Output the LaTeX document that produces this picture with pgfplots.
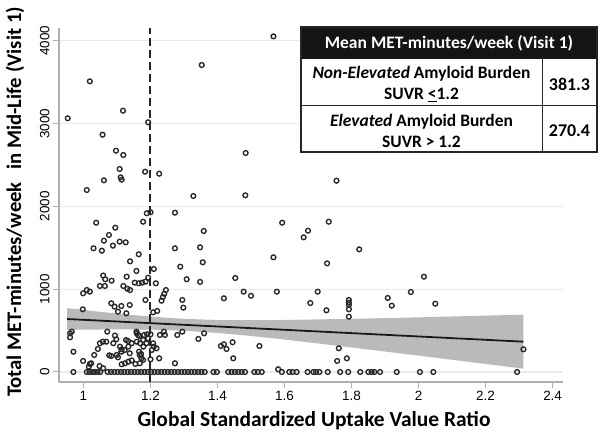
\documentclass[border=0pt]{standalone}
\usepackage{pgfplots}
\pgfplotsset{compat=1.18}
\usepackage{pgfplotstable}
\usepackage{fontspec}
\setmainfont{Liberation Sans}
\newfontfamily\carlito{Carlito}
\definecolor{bandgray}{RGB}{186,186,186}
\definecolor{markc}{RGB}{40,40,40}
\definecolor{axgray}{RGB}{175,175,175}
\definecolor{gridc}{RGB}{234,234,234}

\pgfplotstableread{
x y
1.567 4054
1.353 3708
1.019 3511
1.118 3156
0.953 3064
1.193 3016
1.057 2866
1.097 2673
1.119 2621
1.484 2645
1.108 2452
1.184 2419
1.226 2395
1.111 2351
1.114 2323
1.061 2315
1.010 2198
1.328 2126
1.483 2134
1.755 2310
1.200 1929
1.189 1917
1.178 1815
1.273 1924
1.038 1803
1.593 1803
1.732 1815
1.095 1743
1.359 1703
1.670 1707
1.076 1655
1.657 1626
1.061 1586
1.108 1574
1.126 1566
1.088 1526
1.030 1494
1.055 1465
1.273 1494
1.348 1506
1.823 1481
1.165 1422
1.567 1385
1.139 1336
1.356 1325
1.727 1312
1.289 1272
1.210 1244
1.158 1220
2.016 1151
1.059 1165
1.065 1120
1.084 1103
1.129 1151
1.193 1139
1.308 1120
1.348 1088
1.453 1135
1.153 1079
1.165 1071
1.175 1079
1.185 1091
1.216 1071
1.049 1039
1.064 1039
1.119 1039
1.131 1005
1.139 990
0.999 950
1.010 990
1.019 970
1.246 990
1.241 945
1.237 905
1.233 861
1.478 970
1.500 920
1.577 970
1.699 970
1.419 890
1.908 894
1.977 966
1.295 870
1.185 870
1.083 830
1.093 789
1.113 797
1.138 809
1.298 777
1.677 833
2.050 825
1.920 801
1.725 745
1.792 870
1.792 837
1.792 809
1.792 757
1.792 668
0.998 757
1.103 728
1.128 709
1.208 721
1.220 737
0.960 467
0.965 487
0.960 419
0.970 245
0.999 133
1.023 105
1.019 97
1.016 64
1.048 72
1.059 45
1.032 205
1.043 278
1.049 347
1.058 366
1.068 366
1.071 487
1.094 440
1.098 395
1.089 347
1.077 201
1.099 205
1.083 193
1.103 177
1.113 245
1.123 266
1.114 274
1.109 306
1.138 226
1.124 105
1.134 124
1.144 140
1.114 93
1.155 97
1.168 105
1.178 145
1.173 165
1.168 205
1.127 386
1.133 374
1.134 306
1.144 347
1.159 467
1.167 435
1.158 487
1.163 447
1.166 245
1.172 217
1.179 306
1.159 366
1.169 347
1.178 386
1.188 347
1.181 447
1.193 407
1.190 455
1.200 455
1.200 153
1.204 266
1.210 306
1.208 347
1.218 286
1.226 165
1.228 447
1.240 487
1.243 447
1.273 105
1.280 447
1.295 487
1.343 399
1.360 467
1.410 314
1.419 335
1.427 278
1.445 359
1.447 165
1.525 314
1.762 286
1.757 133
1.786 165
2.313 274
1.581 33
0.970 0
1.010 0
1.018 0
1.026 0
1.034 0
1.042 0
1.050 0
1.072 0
1.082 0
1.092 0
1.102 0
1.112 0
1.122 0
1.132 0
1.142 0
1.152 0
1.162 0
1.172 0
1.182 0
1.192 0
1.202 0
1.212 0
1.222 0
1.232 0
1.242 0
1.252 0
1.262 0
1.272 0
1.282 0
1.292 0
1.302 0
1.312 0
1.322 0
1.332 0
1.342 0
1.352 0
1.362 0
1.388 0
1.398 0
1.432 0
1.442 0
1.452 0
1.462 0
1.472 0
1.482 0
1.510 0
1.520 0
1.532 0
1.592 0
1.614 0
1.624 0
1.636 0
1.669 0
1.686 0
1.694 0
1.704 0
1.729 0
1.766 0
1.790 0
1.826 0
1.850 0
1.860 0
1.868 0
1.885 0
1.935 0
2.004 0
2.044 0
2.294 0
}\scatterdata

\pgfplotstableread{
x y
0.951 771
1.100 705
1.200 668
1.300 642
1.400 628
1.500 625
1.600 628
1.800 642
2.000 660
2.200 681
2.313 692
2.313 40
2.200 97
2.000 198
1.800 296
1.600 392
1.500 435
1.400 472
1.300 498
1.200 512
1.100 515
0.951 509
}\banddata

\pgfplotstableread{
x y
0.951 640
2.313 366
}\fitdata

\begin{document}
\begin{tikzpicture}
\useasboundingbox (0bp,0bp) rectangle (600bp,441bp);
\begin{axis}[
  at={(59bp,59bp)}, anchor=south west,
  width=504bp, height=354bp, scale only axis,
  xmin=0.927, xmax=2.431, ymin=-121, ymax=4155,
  axis x line*=bottom, axis y line*=left,
  axis line style={-, draw=axgray, line width=1.3bp},
  tick align=outside, major tick length=6bp,
  tick style={draw=axgray, line width=1bp},
  xtick={1,1.2,1.4,1.6,1.8,2,2.2,2.4},
  xticklabels={1,1.2,1.4,1.6,1.8,2,2.2,2.4},
  ytick={0,1000,2000,3000,4000},
  yticklabels={0,1000,2000,3000,4000},
  scaled ticks=false,
  /pgf/number format/assume math mode=true,
  ticklabel style={font=\fontsize{13.5}{13.5}\selectfont, text=black},
  yticklabel style={rotate=90, anchor=south},
  ymajorgrids, xmajorgrids=false,
  major grid style={draw=gridc, line width=1.2bp},
  clip=false,
]
\addplot[only marks, mark=o, mark size=2.4bp, mark options={draw=markc, line width=1.35bp}] table[x=x,y=y] {\scatterdata};
\addplot[fill=bandgray, draw=none] table[x=x,y=y] {\banddata};
\addplot[black!90, line width=1.8bp] table[x=x,y=y] {\fitdata};
\addplot[black!85, line width=2bp, dash pattern=on 8bp off 4bp] coordinates {(1.2,-121) (1.2,4155)};
\end{axis}
% axis titles
\node[font=\carlito\bfseries\fontsize{21.5}{21.5}\selectfont] at (314bp,20bp) {Global Standardized Uptake Value Ratio};
\node[rotate=90, font=\carlito\bfseries\fontsize{20.8}{20.8}\selectfont] at (15bp,239bp) {Total MET-minutes/week\hspace{0.6em}in Mid-Life (Visit 1)};
% inset table
\fill[white] (301bp,289bp) rectangle (597bp,414bp);
\fill[black!92] (301bp,382bp) rectangle (597bp,414bp);
\draw[black!85, line width=1.1bp] (301bp,289bp) rectangle (597bp,414bp);
\draw[black!85, line width=1bp] (301bp,335bp) -- (597bp,335bp);
\draw[black!85, line width=1bp] (542bp,289bp) -- (542bp,382bp);
\node[font=\carlito\bfseries\fontsize{17.6}{17.6}\selectfont, text=white] at (449bp,398bp) {Mean MET-minutes/week (Visit 1)};
\node[font=\carlito\bfseries\fontsize{17.5}{21}\selectfont, align=center] at (421.5bp,357bp) {\textit{Non-Elevated} Amyloid Burden\\SUVR \underline{<}1.2};
\node[font=\carlito\bfseries\fontsize{17.5}{21}\selectfont, align=center] at (421.5bp,310bp) {\textit{Elevated} Amyloid Burden\\SUVR > 1.2};
\node[font=\carlito\bfseries\fontsize{18}{18}\selectfont] at (569.5bp,357bp) {381.3};
\node[font=\carlito\bfseries\fontsize{18}{18}\selectfont] at (569.5bp,310bp) {270.4};
\end{tikzpicture}
\end{document}
